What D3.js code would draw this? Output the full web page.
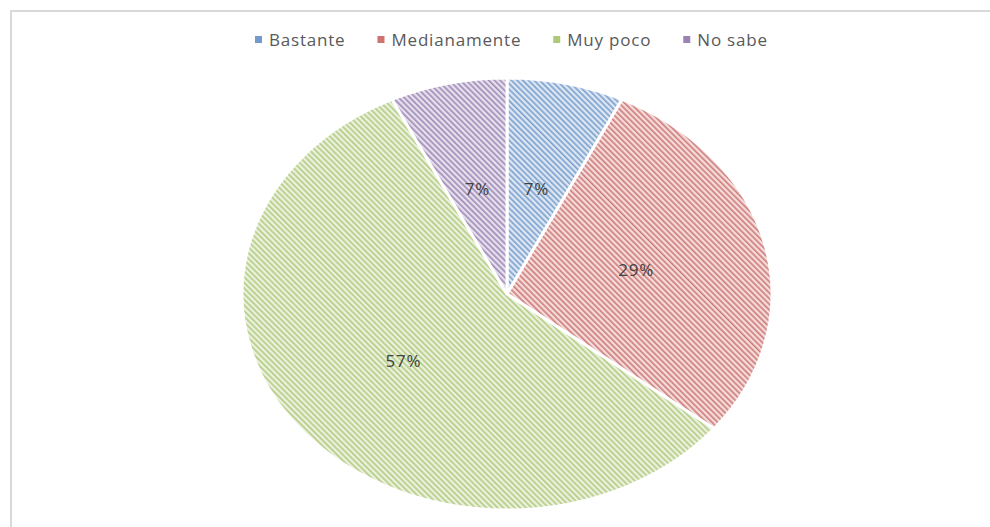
<!DOCTYPE html>
<html lang="es">
<head>
<meta charset="UTF-8"/>
<title>Pie chart</title>
<script src="https://d3js.org/d3.v7.min.js"></script>
<style>
  body { margin: 0; background: #fff; }
  text { font-family: "Open Sans", sans-serif; }
</style>
</head>
<body>
<script>
    var w = 990;
    var h = 527;

    // data: answers counted (1/14, 4/14, 8/14, 1/14)
    var categories = ["Bastante", "Medianamente", "Muy poco", "No sabe"];
    var counts = [1, 4, 8, 1];
    var colors = ["#4F81BD", "#C0504D", "#9BBB59", "#8064A2"];
    var lightColors = ["#dde6f3", "#f3dcdb", "#eaf1de", "#e5e0ec"];

    var cx = 507, cy = 294;
    var rx = 265, ry = 216;

    var svg = d3.select("body")
        .append("svg")
        .attr("width", w)
        .attr("height", h);

    // outer chart frame
    svg.append("path")
        .attr("d", "M11,527 L11,11 L990,11")
        .attr("fill", "none")
        .attr("stroke", "#d9d9d9")
        .attr("stroke-width", 2);

    // hatch patterns (downward diagonal)
    var defs = svg.append("defs");
    categories.forEach(function(c, i) {
        var p = defs.append("pattern")
            .attr("id", "hatch" + i)
            .attr("patternUnits", "userSpaceOnUse")
            .attr("width", 4)
            .attr("height", 4)
            .attr("patternTransform", "rotate(-45)");
        p.append("rect")
            .attr("width", 4).attr("height", 4)
            .attr("fill", lightColors[i]);
        p.append("rect")
            .attr("width", 1.6).attr("height", 4)
            .attr("fill", colors[i])
            .attr("opacity", 0.7);
    });

    var total = d3.sum(counts);
    var pie = d3.pie().sort(null).value(function(d) { return d; });
    var arcs = pie(counts);

    function pt(a, f) {
        return [cx + rx * f * Math.sin(a), cy - ry * f * Math.cos(a)];
    }

    function slicePath(d) {
        var p0 = pt(d.startAngle, 1), p1 = pt(d.endAngle, 1);
        var large = (d.endAngle - d.startAngle) > Math.PI ? 1 : 0;
        return "M" + cx + "," + cy + " L" + p0[0] + "," + p0[1] +
            " A" + rx + "," + ry + " 0 " + large + " 1 " + p1[0] + "," + p1[1] + " Z";
    }

    svg.selectAll("path.slice")
        .data(arcs)
        .enter()
        .append("path")
        .attr("class", "slice")
        .attr("d", slicePath)
        .attr("fill", function(d, i) { return "url(#hatch" + i + ")"; })
        .attr("stroke", "#fff")
        .attr("stroke-width", 3)
        .attr("stroke-linejoin", "round");

    // percent labels
    svg.selectAll("text.lbl")
        .data(arcs)
        .enter()
        .append("text")
        .attr("class", "lbl")
        .attr("x", function(d) { return pt((d.startAngle + d.endAngle) / 2, 0.5)[0]; })
        .attr("y", function(d) { return pt((d.startAngle + d.endAngle) / 2, 0.5)[1]; })
        .attr("dy", "0.35em")
        .attr("text-anchor", "middle")
        .attr("font-size", "17px")
        .attr("letter-spacing", "0.8px")
        .attr("fill", "#404040")
        .text(function(d) { return Math.round(d.value / total * 100) + "%"; });

    // legend
    var legend = svg.append("g");
    var lx = 255;
    categories.forEach(function(c, i) {
        legend.append("rect")
            .attr("x", lx).attr("y", 36)
            .attr("width", 7).attr("height", 7)
            .attr("fill", colors[i])
            .attr("opacity", 0.8);
        var t = legend.append("text")
            .attr("x", lx + 14).attr("y", 40)
            .attr("dy", "0.35em")
            .attr("font-size", "17px")
            .attr("letter-spacing", "0.8px")
            .attr("fill", "#595959")
            .text(c);
        lx += 14 + t.node().getComputedTextLength() + 32;
    });
</script>
</body>
</html>
